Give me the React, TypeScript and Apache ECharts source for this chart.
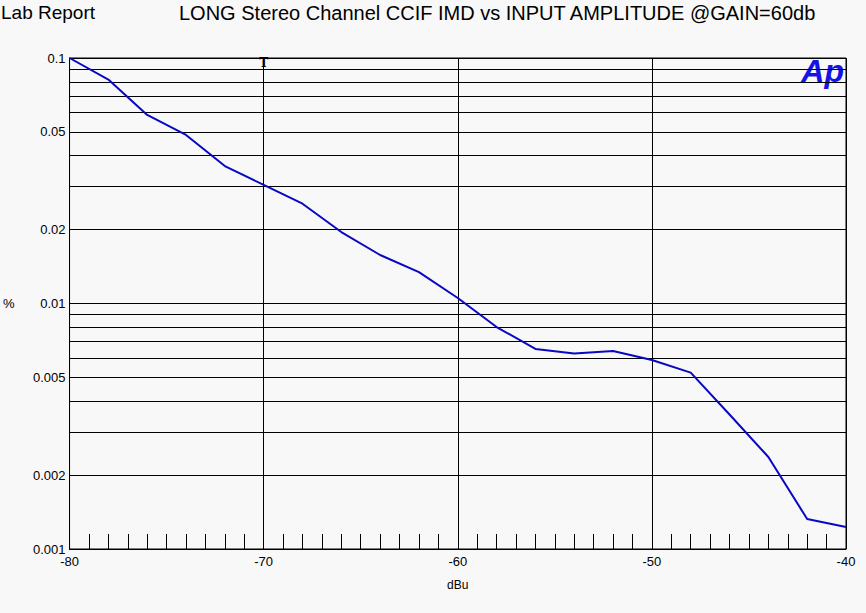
import React, { useEffect, useRef } from "react";
import * as echarts from "echarts";

const dbu = [-80, -78, -76, -74, -72, -70, -68, -66, -64, -62, -60, -58, -56, -54, -52, -50, -48, -46, -44, -42, -40];
const imdPct = [0.1, 0.0817, 0.0586, 0.0486, 0.0363, 0.0304, 0.0255, 0.01955, 0.01576, 0.01343, 0.01053, 0.00802, 0.00653, 0.00626, 0.0064, 0.00589, 0.00523, 0.00353, 0.00237, 0.001325, 0.00123];
const minorGridValues = [0.09, 0.08, 0.07, 0.06, 0.05, 0.04, 0.03, 0.02, 0.009, 0.008, 0.007, 0.006, 0.005, 0.004, 0.003, 0.002];
const minorLabelValues = [0.05, 0.02, 0.005, 0.002];
const mainTitle = "LONG Stereo Channel CCIF IMD vs INPUT AMPLITUDE @GAIN=60db";

const FONT = "'Liberation Sans', Arial, sans-serif";

export default function App() {
  const ref = useRef<HTMLDivElement>(null);
  useEffect(() => {
    if (!ref.current) return;
    const chart = echarts.init(ref.current, undefined, { renderer: "svg" });
    chart.setOption({
      animation: false,
      backgroundColor: "#f8f8f8",
      textStyle: { fontFamily: FONT },
      title: [
        { text: "Lab Report", left: -4, top: -2, textStyle: { fontFamily: FONT, fontSize: 19, fontWeight: "normal", color: "#000" } },
        { text: mainTitle, left: 174, top: -2, textStyle: { fontFamily: FONT, fontSize: 20, fontWeight: "normal", color: "#000" } },
      ],
      graphic: [
        {
          type: "text",
          right: 22,
          top: 55,
          style: { text: "Ap", fontFamily: FONT, fontSize: 32, fontWeight: "bold", fontStyle: "italic", fill: "#1414e6" },
        },
      ],
      grid: { left: 69, right: 20, top: 58, bottom: 64, show: true, borderColor: "#000", borderWidth: 1, backgroundColor: "transparent" },
      xAxis: {
        type: "value",
        min: -80,
        max: -40,
        interval: 10,
        name: "dBu",
        nameLocation: "middle",
        nameGap: 30,
        nameTextStyle: { fontFamily: FONT, fontSize: 12, color: "#000" },
        axisLine: { show: true, lineStyle: { color: "#000", width: 1 } },
        axisTick: { show: true, inside: true, length: 15, lineStyle: { color: "#000" } },
        minorTick: { show: true, splitNumber: 10, length: 15, lineStyle: { color: "#000", width: 1 } },
        splitLine: { show: true, lineStyle: { color: "#000", width: 1 } },
        axisLabel: { fontFamily: FONT, fontSize: 13, color: "#000", margin: 6 },
      },
      yAxis: {
        type: "log",
        logBase: 10,
        min: 0.001,
        max: 0.1,
        name: "%",
        nameLocation: "middle",
        nameRotate: 0,
        nameGap: 55,
        nameTextStyle: { fontFamily: FONT, fontSize: 13, color: "#000" },
        axisLine: { show: true, lineStyle: { color: "#000", width: 1 } },
        axisTick: { show: false },
        splitLine: { show: true, lineStyle: { color: "#000", width: 1 } },
        axisLabel: {
          fontFamily: FONT,
          fontSize: 13,
          color: "#000",
          margin: 4,
          formatter: (v: number) => String(Number(v.toPrecision(3))),
        },
      },
      series: [
        {
          type: "line",
          data: dbu.map((d, i) => [d, imdPct[i]]),
          showSymbol: false,
          symbol: "none",
          lineStyle: { color: "#0808c4", width: 2 },
          z: 5,
          markLine: {
            silent: true,
            precision: 5,
            symbol: ["none", "none"],
            lineStyle: { color: "#000", width: 1, type: "solid" },
            label: { show: false },
            data: minorGridValues.map((v) => ({
              yAxis: v,
              label: {
                show: minorLabelValues.includes(v),
                position: "start",
                distance: 4,
                formatter: String(v),
                fontFamily: FONT,
                fontSize: 13,
                color: "#000",
              },
            })),
          },
          markPoint: {
            silent: true,
            symbol: "circle",
            symbolSize: 0,
            data: [
              {
                coord: [-70, 0.1],
                label: {
                  show: true,
                  formatter: "T",
                  offset: [0, 5],
                  fontFamily: "'DejaVu Serif', 'Liberation Serif', serif",
                  fontWeight: "bold",
                  fontSize: 12,
                  color: "#000",
                },
              },
            ],
          },
        },
      ],
    });
    return () => chart.dispose();
  }, []);
  return <div ref={ref} style={{ width: 866, height: 613, position: "absolute", left: 0, top: 0 }} />;
}
